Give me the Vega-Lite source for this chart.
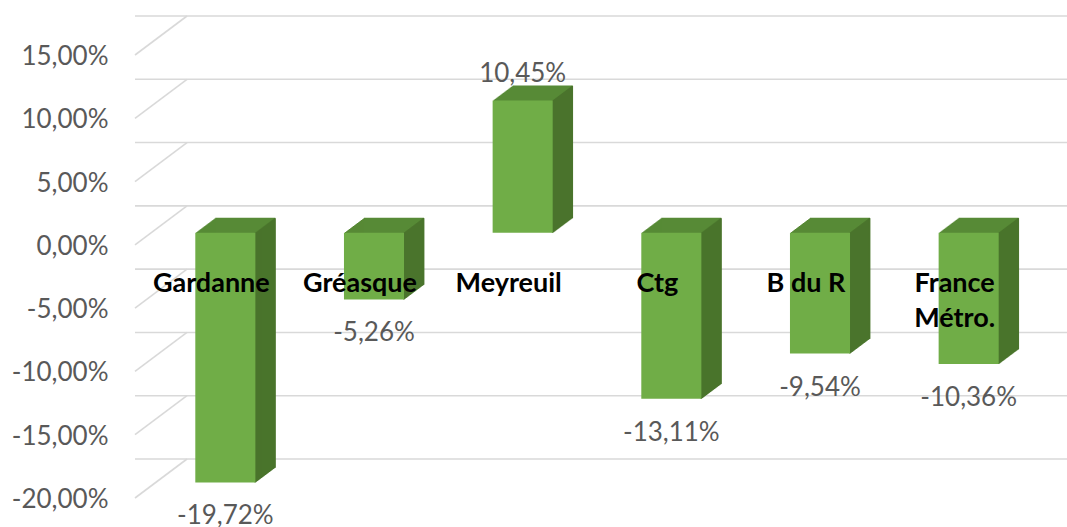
{
  "$schema": "https://vega.github.io/schema/vega-lite/v6.json",
  "width": 892,
  "height": 443,
  "autosize": {"type": "none"},
  "padding": {"left": 135, "top": 55, "right": 40, "bottom": 29},
  "background": "white",
  "config": {
    "view": {"stroke": null},
    "font": "Lato",
    "locale": {"number": {"decimal": ",", "thousands": " ", "grouping": [3], "currency": ["", " €"], "minus": "-"}}
  },
  "datasets": {
    "grid": [{"t": -0.2}, {"t": -0.15}, {"t": -0.1}, {"t": -0.05}, {"t": 0}, {"t": 0.05}, {"t": 0.1}, {"t": 0.15}],
    "bars": [
      {"name": "Gardanne", "v": -0.1972},
      {"name": "Gréasque", "v": -0.0526},
      {"name": "Meyreuil", "v": 0.1045},
      {"name": "Ctg", "v": -0.1311},
      {"name": "B du R", "v": -0.0954},
      {"name": "France\nMétro.", "v": -0.1036}
    ]
  },
  "layer": [
    {
      "data": {"name": "grid"},
      "encoding": {
        "y": {"field": "t", "type": "quantitative",
          "scale": {"domain": [-0.2, 0.15], "nice": false, "zero": false},
          "axis": {"title": null, "values": [-0.2, -0.15, -0.1, -0.05, 0, 0.05, 0.1, 0.15], "format": ".2%", "ticks": false, "domain": false, "grid": false, "labelFont": "Lato", "labelFontSize": 26, "labelColor": "#595959", "labelPadding": 27, "labelFlush": false, "labelOverlap": false, "labelOffset": 1.5}}
      },
      "layer": [
        {"mark": {"type": "rule", "color": "#D9D9D9", "strokeWidth": 1.6, "xOffset": 52, "x2Offset": 52, "yOffset": -39, "y2Offset": -39}},
        {"mark": {"type": "rule", "color": "#D9D9D9", "strokeWidth": 1.6, "x2Offset": 52, "y2Offset": -39},
         "encoding": {"x": {"value": 0}, "x2": {"value": 0}, "y2": {"field": "t"}}}
      ]
    },
    {
      "data": {"name": "bars"},
      "encoding": {
        "x": {"field": "name", "type": "nominal", "sort": null, "scale": {"paddingInner": 0.596, "paddingOuter": 0.298}, "axis": null},
        "y": {"field": "v", "type": "quantitative", "scale": {"domain": [-0.2, 0.15], "nice": false, "zero": false}},
        "y2": {"datum": 0}
      },
      "layer": [
        {"mark": {"type": "bar", "color": "#578A36", "xOffset": 17, "yOffset": -12.75, "y2Offset": -12.75}},
        {"mark": {"type": "bar", "color": "#578A36", "xOffset": 18, "yOffset": -13.5, "y2Offset": -13.5}},
        {"mark": {"type": "bar", "color": "#578A36", "xOffset": 19, "yOffset": -14.25, "y2Offset": -14.25}},
        {"mark": {"type": "bar", "color": "#578A36", "xOffset": 20, "yOffset": -15, "y2Offset": -15}},
        {"mark": {"type": "bar", "color": "#578A36", "xOffset": 21, "yOffset": -15.75, "y2Offset": -15.75}},
        {"mark": {"type": "bar", "color": "#578A36", "xOffset": 22, "yOffset": -16.5, "y2Offset": -16.5}},
        {"mark": {"type": "bar", "color": "#578A36", "xOffset": 23, "yOffset": -17.25, "y2Offset": -17.25}},
        {"mark": {"type": "bar", "color": "#578A36", "xOffset": 24, "yOffset": -18, "y2Offset": -18}},
        {"mark": {"type": "bar", "color": "#578A36", "xOffset": 25, "yOffset": -18.75, "y2Offset": -18.75}},
        {"mark": {"type": "bar", "color": "#578A36", "xOffset": 26, "yOffset": -19.5, "y2Offset": -19.5}},
        {"mark": {"type": "bar", "color": "#578A36", "xOffset": 27, "yOffset": -20.25, "y2Offset": -20.25}},
        {"mark": {"type": "bar", "color": "#578A36", "xOffset": 28, "yOffset": -21, "y2Offset": -21}},
        {"mark": {"type": "bar", "color": "#578A36", "xOffset": 29, "yOffset": -21.75, "y2Offset": -21.75}},
        {"mark": {"type": "bar", "color": "#578A36", "xOffset": 30, "yOffset": -22.5, "y2Offset": -22.5}},
        {"mark": {"type": "bar", "color": "#578A36", "xOffset": 31, "yOffset": -23.25, "y2Offset": -23.25}},
        {"mark": {"type": "bar", "color": "#578A36", "xOffset": 32, "yOffset": -24, "y2Offset": -24}},
        {"mark": {"type": "bar", "color": "#578A36", "xOffset": 33, "yOffset": -24.75, "y2Offset": -24.75}},
        {"mark": {"type": "bar", "color": "#578A36", "xOffset": 34, "yOffset": -25.5, "y2Offset": -25.5}},
        {"mark": {"type": "bar", "color": "#578A36", "xOffset": 35, "yOffset": -26.25, "y2Offset": -26.25}},
        {"mark": {"type": "bar", "color": "#578A36", "xOffset": 36, "yOffset": -27, "y2Offset": -27}},
        {"mark": {"type": "rule", "color": "#4A742C", "strokeWidth": 1.6, "xOffset": 46, "yOffset": -12, "y2Offset": -12}},
        {"mark": {"type": "rule", "color": "#4A742C", "strokeWidth": 1.6, "xOffset": 47, "yOffset": -12.75, "y2Offset": -12.75}},
        {"mark": {"type": "rule", "color": "#4A742C", "strokeWidth": 1.6, "xOffset": 48, "yOffset": -13.5, "y2Offset": -13.5}},
        {"mark": {"type": "rule", "color": "#4A742C", "strokeWidth": 1.6, "xOffset": 49, "yOffset": -14.25, "y2Offset": -14.25}},
        {"mark": {"type": "rule", "color": "#4A742C", "strokeWidth": 1.6, "xOffset": 50, "yOffset": -15, "y2Offset": -15}},
        {"mark": {"type": "rule", "color": "#4A742C", "strokeWidth": 1.6, "xOffset": 51, "yOffset": -15.75, "y2Offset": -15.75}},
        {"mark": {"type": "rule", "color": "#4A742C", "strokeWidth": 1.6, "xOffset": 52, "yOffset": -16.5, "y2Offset": -16.5}},
        {"mark": {"type": "rule", "color": "#4A742C", "strokeWidth": 1.6, "xOffset": 53, "yOffset": -17.25, "y2Offset": -17.25}},
        {"mark": {"type": "rule", "color": "#4A742C", "strokeWidth": 1.6, "xOffset": 54, "yOffset": -18, "y2Offset": -18}},
        {"mark": {"type": "rule", "color": "#4A742C", "strokeWidth": 1.6, "xOffset": 55, "yOffset": -18.75, "y2Offset": -18.75}},
        {"mark": {"type": "rule", "color": "#4A742C", "strokeWidth": 1.6, "xOffset": 56, "yOffset": -19.5, "y2Offset": -19.5}},
        {"mark": {"type": "rule", "color": "#4A742C", "strokeWidth": 1.6, "xOffset": 57, "yOffset": -20.25, "y2Offset": -20.25}},
        {"mark": {"type": "rule", "color": "#4A742C", "strokeWidth": 1.6, "xOffset": 58, "yOffset": -21, "y2Offset": -21}},
        {"mark": {"type": "rule", "color": "#4A742C", "strokeWidth": 1.6, "xOffset": 59, "yOffset": -21.75, "y2Offset": -21.75}},
        {"mark": {"type": "rule", "color": "#4A742C", "strokeWidth": 1.6, "xOffset": 60, "yOffset": -22.5, "y2Offset": -22.5}},
        {"mark": {"type": "rule", "color": "#4A742C", "strokeWidth": 1.6, "xOffset": 61, "yOffset": -23.25, "y2Offset": -23.25}},
        {"mark": {"type": "rule", "color": "#4A742C", "strokeWidth": 1.6, "xOffset": 62, "yOffset": -24, "y2Offset": -24}},
        {"mark": {"type": "rule", "color": "#4A742C", "strokeWidth": 1.6, "xOffset": 63, "yOffset": -24.75, "y2Offset": -24.75}},
        {"mark": {"type": "rule", "color": "#4A742C", "strokeWidth": 1.6, "xOffset": 64, "yOffset": -25.5, "y2Offset": -25.5}},
        {"mark": {"type": "rule", "color": "#4A742C", "strokeWidth": 1.6, "xOffset": 65, "yOffset": -26.25, "y2Offset": -26.25}},
        {"mark": {"type": "rule", "color": "#4A742C", "strokeWidth": 1.6, "xOffset": 65.6, "yOffset": -26.7, "y2Offset": -26.7}},
        {"mark": {"type": "bar", "color": "#70AD47", "xOffset": 16, "yOffset": -12, "y2Offset": -12}}
      ]
    },
    {
      "data": {"name": "bars"},
      "encoding": {
        "x": {"field": "name", "type": "nominal", "sort": null},
        "y": {"field": "v", "type": "quantitative"},
        "text": {"field": "v", "type": "quantitative", "format": ".2%"}
      },
      "layer": [
        {"transform": [{"filter": "datum.v > 0"}],
         "mark": {"type": "text", "font": "Lato", "fontSize": 26, "color": "#595959", "baseline": "middle", "xOffset": 16, "dy": -39}},
        {"transform": [{"filter": "datum.v < 0"}],
         "mark": {"type": "text", "font": "Lato", "fontSize": 26, "color": "#595959", "baseline": "middle", "xOffset": 16, "dy": 22}}
      ]
    },
    {
      "data": {"name": "bars"},
      "mark": {"type": "text", "font": "Lato", "fontSize": 27, "fontWeight": "bold", "color": "#000000", "baseline": "alphabetic", "lineBreak": "\n", "lineHeight": 35, "dy": 47, "xOffset": 2},
      "encoding": {
        "x": {"field": "name", "type": "nominal", "sort": null},
        "y": {"datum": 0, "type": "quantitative"},
        "text": {"field": "name", "type": "nominal"}
      }
    }
  ]
}
